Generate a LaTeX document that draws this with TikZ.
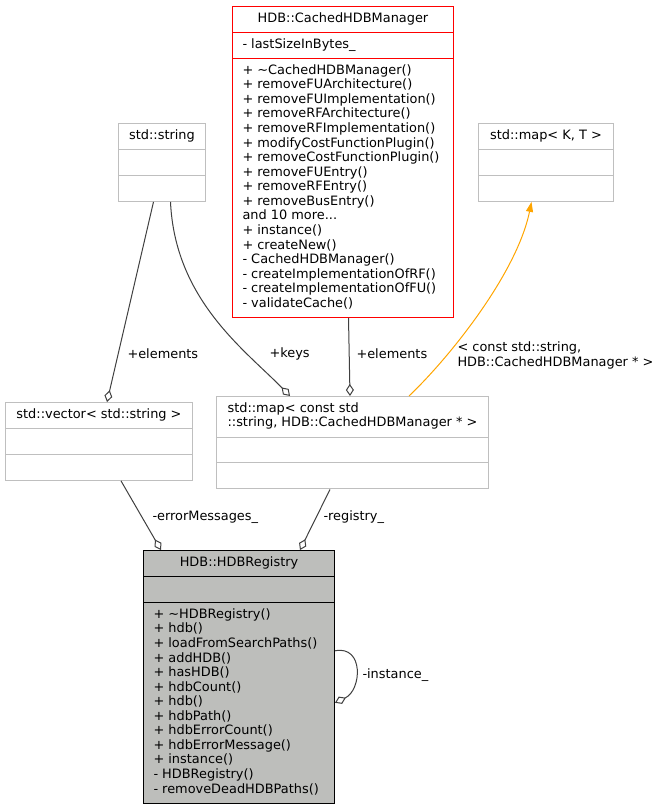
\documentclass[tikz,border=0pt]{standalone}
\usepackage{fontspec}
\setmainfont{DejaVu Sans}
\usetikzlibrary{shapes.multipart,arrows.meta}
\definecolor{boxgray}{RGB}{191,191,191}
\definecolor{edgegray}{RGB}{64,64,64}
\definecolor{regfill}{RGB}{189,190,187}
\definecolor{tplorange}{RGB}{255,165,0}
\begin{document}
\begin{tikzpicture}[x=1pt, y=-1pt, line width=1pt]

        % Styles
        \tikzstyle{classe}=[rectangle split, rectangle split parts=3, draw=boxgray, fill=white, anchor=north west, align=left, rectangle split part align={center,left,left}, inner xsep=10pt, inner ysep=5.2pt, font=\fontsize{12.9}{14.56}\selectfont]
        \tikzstyle{lien}=[draw=edgegray, -{Diamond[open, length=12pt, width=8pt]}]
        \tikzstyle{etiq}=[anchor=west, inner sep=0pt, align=left, font=\fontsize{12.9}{14.56}\selectfont]

        \useasboundingbox (0,0) rectangle (660,808);

        % Classes
        \node[classe, draw=red, minimum width=221pt] (cached) at (232,6) {\strut HDB::CachedHDBManager
            \nodepart{two}\strut - lastSizeInBytes\_
            \nodepart{three}\strut + \textasciitilde CachedHDBManager()\\
            + removeFUArchitecture()\\
            + removeFUImplementation()\\
            + removeRFArchitecture()\\
            + removeRFImplementation()\\
            + modifyCostFunctionPlugin()\\
            + removeCostFunctionPlugin()\\
            + removeFUEntry()\\
            + removeRFEntry()\\
            + removeBusEntry()\\
            and 10 more...\\
            + instance()\\
            + createNew()\\
            - CachedHDBManager()\\
            - createImplementationOfRF()\\
            - createImplementationOfFU()\\
            - validateCache()\strut};
        \node[classe, minimum width=87pt] (str) at (118,123) {\strut std::string \nodepart{two}\strut \nodepart{three}\strut};
        \node[classe, minimum width=135pt] (mapkt) at (478,123) {\strut std::map< K, T > \nodepart{two}\strut \nodepart{three}\strut};
        \node[classe, minimum width=187pt] (vec) at (5,402) {\strut std::vector< std::string > \nodepart{two}\strut \nodepart{three}\strut};
        \node[classe, minimum width=272pt] (mapc) at (216,396) {\strut std::map< const std\\::string, HDB::CachedHDBManager * >\strut \nodepart{two}\strut \nodepart{three}\strut};
        \node[classe, draw=black, fill=regfill, minimum width=191pt] (reg) at (143,550) {\strut HDB::HDBRegistry
            \nodepart{two}\strut
            \nodepart{three}\strut + \textasciitilde HDBRegistry()\\
            + hdb()\\
            + loadFromSearchPaths()\\
            + addHDB()\\
            + hasHDB()\\
            + hdbCount()\\
            + hdb()\\
            + hdbPath()\\
            + hdbErrorCount()\\
            + hdbErrorMessage()\\
            + instance()\\
            - HDBRegistry()\\
            - removeDeadHDBPaths()\strut};

        % Liens
        \draw[lien] ([xshift=-8.5pt]str.south) -- ([xshift=102pt]vec.north west);
        \draw[lien] ([xshift=8.5pt]str.south) .. controls (175,300) and (245,350) .. ([xshift=74pt]mapc.north west);
        \draw[lien] ([xshift=5.5pt]cached.south) -- ([xshift=134pt]mapc.north west);
        \draw[draw=tplorange, -{Triangle[length=10pt, width=7pt]}] ([xshift=193pt]mapc.north west) .. controls (450,357) and (517,273) .. ([xshift=-14.5pt]mapkt.south);
        \draw[lien] ([xshift=116pt]vec.south west) -- ([xshift=18pt]reg.north west);
        \draw[lien] ([xshift=114pt]mapc.south west) -- ([xshift=157pt]reg.north west);
        \draw[lien] ([yshift=26pt]reg.east) .. controls (364,645) and (362,690) .. ([yshift=-26pt]reg.east);

        % Etiquettes
        \node[etiq] (l1) at (127,354) {+elements};
        \node[etiq] (l2) at (269,354) {+keys};
        \node[etiq] (l3) at (356,354) {+elements};
        \node[etiq] (l4) at (457,355.5) {< const std::string,\\HDB::CachedHDBManager * >};
        \node[etiq] (l5) at (152,517) {-errorMessages\_};
        \node[etiq] (l6) at (323,517) {-registry\_};
        \node[etiq] (l7) at (362,675) {-instance\_};

    \end{tikzpicture}
\end{document}
